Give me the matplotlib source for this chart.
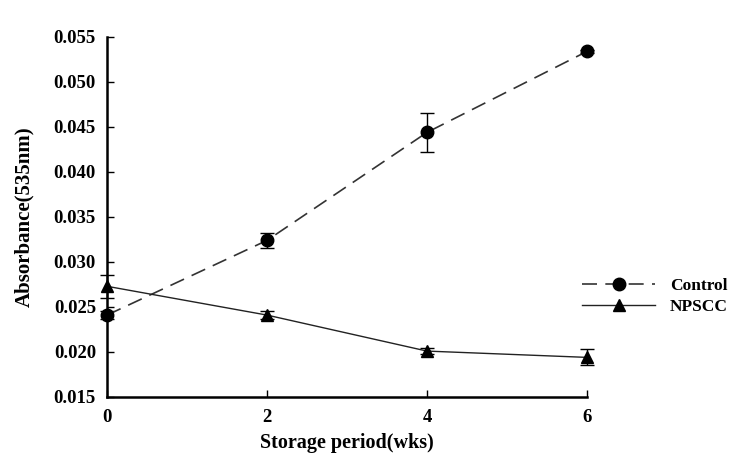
import numpy as np
import matplotlib
matplotlib.use("Agg")
import matplotlib.pyplot as plt
from matplotlib.lines import Line2D

# Data
weeks = [0, 2, 4, 6]
control = [0.0241, 0.0324, 0.0444, 0.0534]
control_err = [0.0004, 0.0008, 0.0022, 0.0002]
npscc = [0.0273, 0.0241, 0.0201, 0.0194]
npscc_err = [0.0013, 0.0004, 0.0003, 0.0009]
yticks = [0.015, 0.020, 0.025, 0.030, 0.035, 0.040, 0.045, 0.050, 0.055]

plt.rcParams['font.family'] = ['Liberation Serif', 'DejaVu Serif']
plt.rcParams['font.weight'] = 'bold'

fig = plt.figure(figsize=(7.41, 4.55), dpi=100)
ax = fig.add_axes([0.1444, 0.1275, 0.6478, 0.7912])

ctrl_style = dict(color='#333333', linestyle=(0, (9, 5)), linewidth=1.2,
                  marker='o', markersize=9, markerfacecolor='black',
                  markeredgecolor='black')
np_style = dict(color='#222222', linestyle='-', linewidth=1.0,
                marker='^', markersize=9, markerfacecolor='black',
                markeredgecolor='black')

ax.errorbar(weeks, control, yerr=control_err, ecolor='black', capsize=5,
            elinewidth=1, clip_on=False, zorder=3, **ctrl_style)
ax.errorbar(weeks, npscc, yerr=npscc_err, ecolor='black', capsize=5,
            elinewidth=1, clip_on=False, zorder=3, **np_style)

ax.set_xlim(0, 6)
ax.set_ylim(0.015, 0.055)
ax.set_xticks(weeks)
ax.set_yticks(yticks)
ax.set_yticklabels(['%.3f' % v for v in yticks])
ax.tick_params(axis='both', direction='in', length=5, width=1, labelsize=13.5)
ax.tick_params(axis='x', pad=9)
ax.tick_params(axis='y', pad=8)

for side in ['top', 'right']:
    ax.spines[side].set_visible(False)
for side in ['left', 'bottom']:
    ax.spines[side].set_linewidth(1.8)

ax.set_xlabel('Storage period(wks)', fontsize=14.5, fontweight='bold', labelpad=5)
ax.set_ylabel('Absorbance(535nm)', fontsize=15, fontweight='bold', labelpad=14)

handles = [Line2D([], [], **ctrl_style), Line2D([], [], **np_style)]
ax.legend(handles, ['Control', 'NPSCC'], loc='upper left',
          bbox_to_anchor=(0.99, 0.33), frameon=False, fontsize=12.5,
          handlelength=4.2, handletextpad=0.85, labelspacing=0.25,
          borderaxespad=0, borderpad=0)

fig.savefig('out.png', dpi=100)
